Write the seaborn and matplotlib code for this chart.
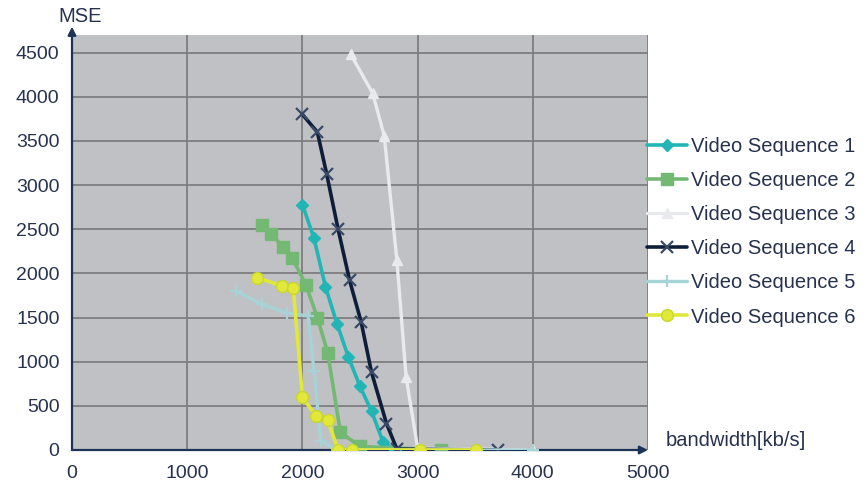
import matplotlib
matplotlib.use("Agg")
import matplotlib.pyplot as plt
import seaborn as sns
import pandas as pd

# Bandwidth (kb/s) and MSE readings per sequence
seq1_bw = [2000, 2100, 2200, 2300, 2400, 2500, 2600, 2700, 2800]
seq1_mse = [2780, 2400, 1850, 1430, 1050, 720, 440, 90, 0]

seq2_bw = [1650, 1730, 1830, 1910, 2030, 2130, 2220, 2330, 2500, 3200]
seq2_mse = [2550, 2450, 2300, 2180, 1870, 1500, 1100, 200, 40, 0]

seq3_bw = [2420, 2610, 2710, 2820, 2900, 3000, 4000]
seq3_mse = [4480, 4040, 3560, 2150, 830, 20, 0]

seq4_bw = [2000, 2130, 2210, 2310, 2410, 2510, 2600, 2730, 2820, 3700]
seq4_mse = [3800, 3600, 3130, 2500, 1920, 1450, 880, 300, 10, 0]

seq5_bw = [1420, 1650, 1870, 2050, 2100, 2160, 2300, 4000]
seq5_mse = [1800, 1650, 1550, 1520, 900, 100, 0, 0]

seq6_bw = [1610, 1820, 1920, 2000, 2120, 2220, 2310, 2430, 3020, 3510]
seq6_mse = [1950, 1860, 1840, 600, 380, 340, 0, 0, 0, 0]

labels = ["Video Sequence 1", "Video Sequence 2", "Video Sequence 3",
          "Video Sequence 4", "Video Sequence 5", "Video Sequence 6"]
x_ticks = [0, 1000, 2000, 3000, 4000, 5000]
y_ticks = [0, 500, 1000, 1500, 2000, 2500, 3000, 3500, 4000, 4500]

series_bw = [seq1_bw, seq2_bw, seq3_bw, seq4_bw, seq5_bw, seq6_bw]
series_mse = [seq1_mse, seq2_mse, seq3_mse, seq4_mse, seq5_mse, seq6_mse]

frames = []
for name, bw, mse in zip(labels, series_bw, series_mse):
    frames.append(pd.DataFrame({"bandwidth": bw, "MSE": mse, "series": name}))
df = pd.concat(frames, ignore_index=True)

styles = {
    "Video Sequence 1": dict(color="#22B5B5", marker="D", ms=6.5, mfc="#22B5B5", mec="#22B5B5", lw=2.6),
    "Video Sequence 2": dict(color="#73B873", marker="s", ms=8, mfc="#73B873", mec="#73B873", lw=2.6),
    "Video Sequence 3": dict(color="#E9EAEE", marker="^", ms=7, mfc="#E9EAEE", mec="#E9EAEE", lw=2.4),
    "Video Sequence 4": dict(color="#0E1D3A", marker="x", ms=9, mfc="#0E1D3A", mec="#3A4A66", lw=2.6),
    "Video Sequence 5": dict(color="#A6D3D6", marker="+", ms=8, mfc="#A6D3D6", mec="#A6D3D6", lw=2.4),
    "Video Sequence 6": dict(color="#E2E83A", marker="o", ms=8.5, mfc="#E2E83A", mec="#C8D82A", lw=2.6),
}

sns.set_theme(style="white")
plt.rcParams["font.family"] = ["Liberation Sans", "DejaVu Sans"]
text_color = "#26324E"

fig = plt.figure(figsize=(8.67, 4.92), dpi=100)
ax = fig.add_axes([72 / 867, 1 - 450 / 492, (648 - 72) / 867, (450 - 35) / 492])
ax.set_facecolor("#C0C1C4")

for name in labels:
    st = styles[name]
    sub = df[df["series"] == name]
    sns.lineplot(data=sub, x="bandwidth", y="MSE", ax=ax, estimator=None, sort=False,
                 color=st["color"], marker=st["marker"], markersize=st["ms"],
                 markerfacecolor=st["mfc"], markeredgecolor=st["mec"],
                 markeredgewidth=1.6 if st["marker"] in ("x", "+") else 1.0,
                 linewidth=st["lw"], label=name, zorder=3)

ax.set_xlim(0, 5000)
ax.set_ylim(0, 4700)
ax.set_xticks(x_ticks)
ax.set_yticks(y_ticks)
ax.set_xlabel("")
ax.set_ylabel("")
ax.grid(True, color="#7E7E80", linewidth=1.3)
ax.set_axisbelow(True)
for s in ax.spines.values():
    s.set_visible(False)
ax.tick_params(axis="both", labelsize=14, labelcolor=text_color, color=text_color,
               length=5, width=1.2, direction="out", pad=4)
ax.tick_params(axis="x", pad=6)

# axis lines with arrowheads
ax.annotate("", xy=(0, 1.02), xycoords="axes fraction", xytext=(0, 0),
            arrowprops=dict(arrowstyle="-|>", color="#1E3358", lw=1.6,
                            mutation_scale=12, shrinkA=0, shrinkB=0), zorder=5)
ax.annotate("", xy=(1.0, 0), xycoords="axes fraction", xytext=(0, 0),
            arrowprops=dict(arrowstyle="-|>", color="#1E3358", lw=1.6,
                            mutation_scale=12, shrinkA=0, shrinkB=0), zorder=2)

fig.text(80 / 867, 1 - 16 / 492, "MSE", ha="center", va="center", fontsize=14.5, color=text_color)
fig.text(666 / 867, 1 - 441 / 492, "bandwidth[kb/s]", ha="left", va="center", fontsize=14.5, color=text_color)

handles, leg_labels = ax.get_legend_handles_labels()
leg = ax.legend(handles, leg_labels, loc="upper left", bbox_to_anchor=(647 / 867, 1 - 137 / 492),
                bbox_transform=fig.transFigure, frameon=False, fontsize=14.5,
                handlelength=2.0, handletextpad=0.2, labelspacing=0.75, borderpad=0, borderaxespad=0)
for t in leg.get_texts():
    t.set_color(text_color)

fig.savefig("out.png", dpi=100, facecolor="white")
